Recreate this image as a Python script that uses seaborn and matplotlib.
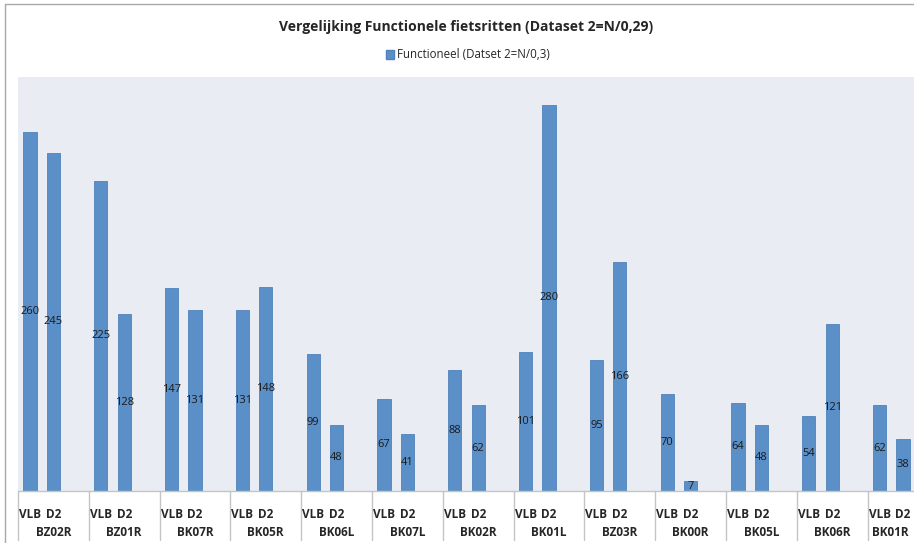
import numpy as np
import pandas as pd
import matplotlib
matplotlib.use("Agg")
import matplotlib.pyplot as plt
import seaborn as sns
from matplotlib.patches import Patch
from matplotlib.lines import Line2D

# ================================
# Data
# ================================
groups = ["BZ02R", "BZ01R", "BK07R", "BK05R", "BK06L", "BK07L", "BK02R",
          "BK01L", "BZ03R", "BK00R", "BK05L", "BK06R", "BK01R"]
series = ["VLB", "D2"]
vlb = [260, 225, 147, 131, 99, 67, 88, 101, 95, 70, 64, 54, 62]
d2 = [245, 128, 131, 148, 48, 41, 62, 280, 166, 7, 48, 121, 38]

title = "Vergelijking Functionele fietsritten (Dataset 2=N/0,29)"
legend_label = "Functioneel (Datset 2=N/0,3)"

df = pd.DataFrame({
    "groep": groups * 2,
    "serie": ["VLB"] * len(groups) + ["D2"] * len(groups),
    "waarde": vlb + d2,
})

# ================================
# Style
# ================================
sns.set_style("white")
plt.rcParams["font.family"] = ["Open Sans", "DejaVu Sans"]

bar_color = "#5B8FC7"
edge_color = "#4F82BA"
bg_color = "#E9EDF3"
line_color = "#C4C4C4"

fig = plt.figure(figsize=(9.14, 5.43), dpi=100)
ax = fig.add_axes([18 / 914, 52 / 543, 896 / 914, 414 / 543])
ax.set_facecolor(bg_color)

dodge_w = 0.66
sns.barplot(data=df, x="groep", y="waarde", hue="serie", hue_order=series,
            order=groups, palette=[bar_color, bar_color], width=dodge_w,
            gap=0.44, edgecolor=edge_color, linewidth=0.6, saturation=1,
            legend=False, ax=ax)

# value labels in middle of the bars
for cont in ax.containers:
    for rect in cont:
        h = rect.get_height()
        ax.text(rect.get_x() + rect.get_width() / 2, h / 2, f"{h:.0f}",
                ha="center", va="center", fontsize=8, color="#1a1a1a")

start = -dodge_w / 2 - 0.005
right = start + 896 / 70.8
ax.set_xlim(start, right)
ax.set_ylim(0, 300)
ax.set_xticks([])
ax.set_yticks([])
ax.set_xlabel("")
ax.set_ylabel("")
for s in ["top", "right", "left"]:
    ax.spines[s].set_visible(False)
ax.spines["bottom"].set_color(line_color)
ax.spines["bottom"].set_linewidth(1)

# two-level category labels
tr = ax.get_xaxis_transform()
off = dodge_w / 4
for i, g in enumerate(groups):
    for j, s in enumerate(series):
        ax.text(i + (off if j else -off), -0.056, s, transform=tr,
                ha="center", va="center", fontsize=8.5, fontweight="bold",
                clip_on=False)
    g_lo = i + start
    g_hi = min(g_lo + 1, right)
    ax.text((g_lo + g_hi) / 2, -0.10, g, transform=tr, ha="center",
            va="center", fontsize=8.5, fontweight="bold", clip_on=False)
    ax.plot([g_lo, g_lo], [0, -0.119], transform=tr, color=line_color,
            lw=1, clip_on=False)

# title and legend
fig.text(466 / 914, 1 - 27 / 543, title, ha="center", va="center",
         fontsize=10, fontweight="bold")
fig.legend(handles=[Patch(facecolor=bar_color, edgecolor=edge_color)],
           labels=[legend_label], loc="center", frameon=False,
           bbox_to_anchor=(468 / 914, 1 - 55 / 543), fontsize=8.3,
           handlelength=0.7, handleheight=0.7, handletextpad=0.3)

# outer chart frame (partly cut off)
fig.add_artist(Line2D([5 / 914, 5 / 914], [0, 1 - 4 / 543],
                      transform=fig.transFigure, color="#A8A8A8", lw=1))
fig.add_artist(Line2D([5 / 914, 1], [1 - 4 / 543, 1 - 4 / 543],
                      transform=fig.transFigure, color="#A8A8A8", lw=1))

fig.savefig("out.png", dpi=100)
